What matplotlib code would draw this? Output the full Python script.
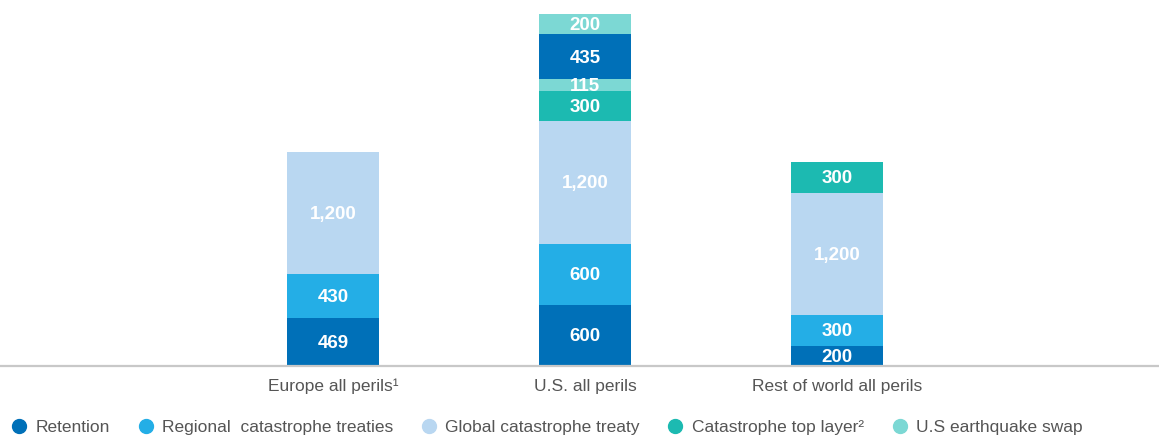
import matplotlib
matplotlib.use("Agg")
import matplotlib.pyplot as plt
from matplotlib.lines import Line2D

plt.rcParams['font.family'] = ['Liberation Sans', 'DejaVu Sans']

# Programme structure per region, stacked bottom to top
regions = ["Europe all perils\u00b9", "U.S. all perils", "Rest of world all perils"]
layer_names = ["Retention", "Regional  catastrophe treaties", "Global catastrophe treaty",
               "Catastrophe top layer\u00b2", "U.S earthquake swap"]
layer_colors = ["#0070b8", "#24aee6", "#b9d7f1", "#1cbab1", "#7cd8d4"]

# Each stack: list of (layer index, value)
europe_stack = [(0, 469), (1, 430), (2, 1200)]
us_stack = [(0, 600), (1, 600), (2, 1200), (3, 300), (4, 115), (0, 435), (4, 200)]
row_stack = [(0, 200), (1, 300), (2, 1200), (3, 300)]
stacks = [europe_stack, us_stack, row_stack]

fig = plt.figure(figsize=(11.59, 4.36), dpi=100)
ax = fig.add_axes([0.0, 70 / 436, 1.0, 366 / 436])

bar_w = 92 / 252
for x, stack in enumerate(stacks):
    bottom = 0
    for layer, val in stack:
        ax.bar(x, val, bottom=bottom, width=bar_w, color=layer_colors[layer], linewidth=0)
        ax.text(x, bottom + val / 2 - 15, f"{val:,}", ha="center", va="center",
                color="white", fontsize=13.5, fontweight="bold")
        bottom += val

ax.set_xlim(-333 / 252, (1159 - 333) / 252)
ax.set_ylim(0, 366 / 0.10203)
ax.set_xticks(range(len(regions)))
ax.set_xticklabels(regions, fontsize=12.5, color="#555555")
ax.tick_params(axis="x", length=0, pad=9)
ax.set_yticks([])
for side in ["top", "right", "left"]:
    ax.spines[side].set_visible(False)
ax.spines["bottom"].set_color("#c8c8c8")
ax.spines["bottom"].set_linewidth(1.6)

handles = [Line2D([0], [0], marker="o", linestyle="none", markersize=10,
                  markerfacecolor=c, markeredgecolor=c) for c in layer_colors]
fig.legend(handles, layer_names, loc="lower left", bbox_to_anchor=(0.0, -0.021),
           ncol=5, frameon=False, fontsize=12.5, labelcolor="#555555",
           handletextpad=0.45, columnspacing=1.55, borderaxespad=0.2, handlelength=1.0)

fig.savefig("out.png", dpi=100)
